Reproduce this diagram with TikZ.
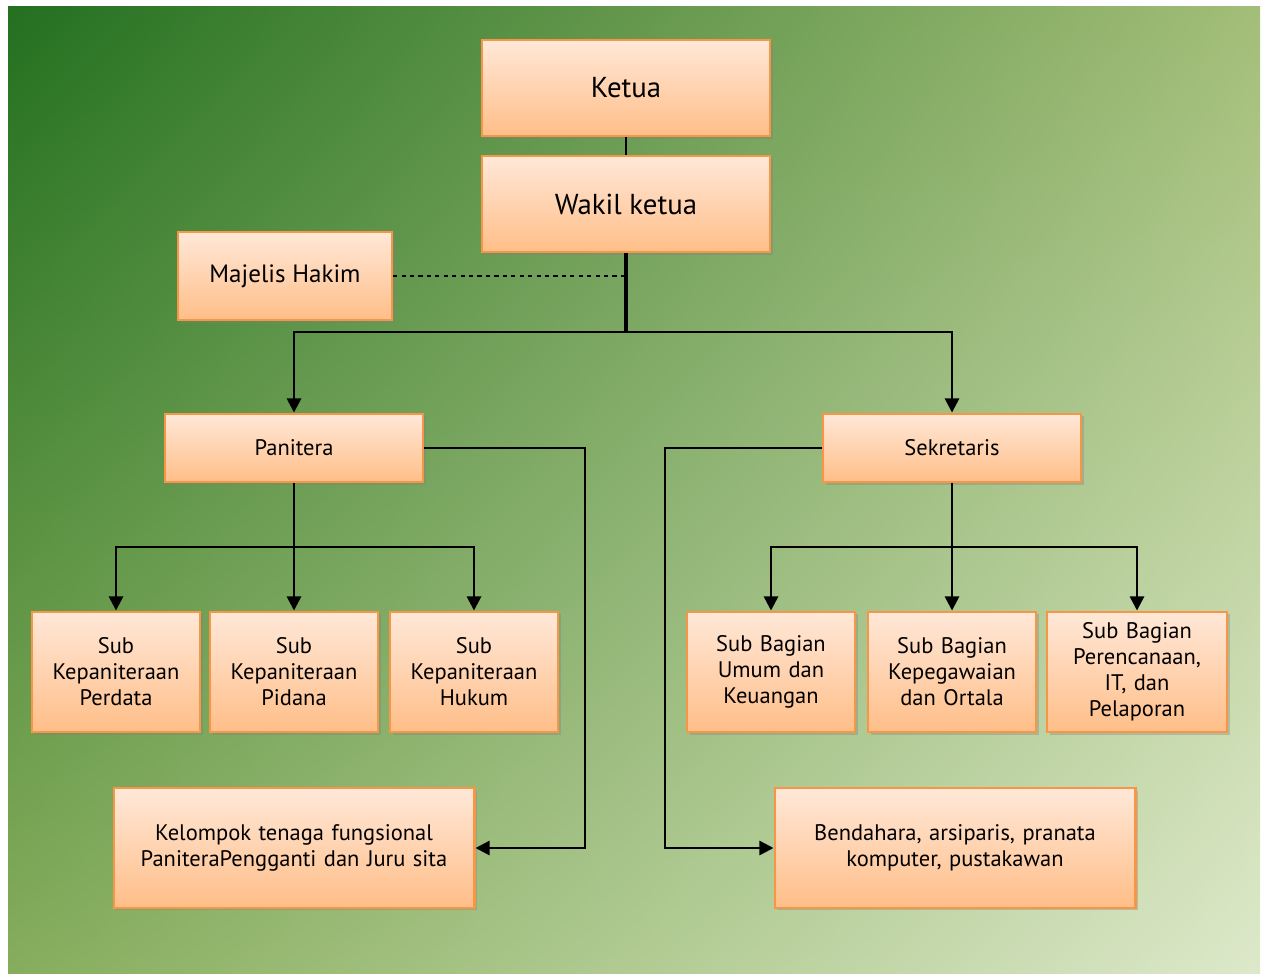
\documentclass[tikz,border=0pt]{standalone}
\usepackage{fontspec}
\setmainfont{PT Sans}
\usetikzlibrary{arrows.meta,shadows,shadings}

\definecolor{bgdark}{HTML}{237020}
\definecolor{bgtr}{HTML}{A3BE78}
\definecolor{bgbl}{HTML}{86AD5C}
\definecolor{bglight}{HTML}{DDE9CA}
\definecolor{boxtop}{HTML}{FFE8D8}
\definecolor{boxbot}{HTML}{FFBE88}
\definecolor{boxline}{HTML}{F79646}

\tikzset{
  unit/.style={draw=boxline, line width=1.5pt, top color=boxtop, bottom color=boxbot,
    inner sep=0pt, align=center,
    drop shadow={opacity=0.35, shadow xshift=2pt, shadow yshift=-2pt}},
  conn/.style={line width=1.8pt},
  arr/.style={conn, -{Triangle[length=10pt,width=10pt]}},
}

\begin{document}
\begin{tikzpicture}[x=0.025cm,y=-0.025cm]
\useasboundingbox (0,0) rectangle (1266,973);
\shade[upper left=bgdark, upper right=bgtr, lower left=bgbl, lower right=bglight]
  (8,6) rectangle (1260,973);

% pimpinan
\node[unit, minimum width=7.2cm, minimum height=2.4cm, font=\fontsize{20.5}{24}\selectfont] (ketua) at (626,88) {Ketua};
\node[unit, minimum width=7.2cm, minimum height=2.4cm, font=\fontsize{20.5}{24}\selectfont] (wakil) at (626,204) {Wakil ketua};
\node[unit, minimum width=5.35cm, minimum height=2.2cm, font=\fontsize{17.8}{22}\selectfont] (majelis) at (285,276) {Majelis Hakim};

% panitera dan sekretaris
\node[unit, minimum width=6.45cm, minimum height=1.72cm, font=\fontsize{16}{18}\selectfont] (panitera) at (294,448) {Panitera};
\node[unit, minimum width=6.45cm, minimum height=1.72cm, font=\fontsize{16}{18}\selectfont] (sekretaris) at (952,448) {Sekretaris};

% sub bagian
\tikzset{sub/.style={unit, minimum width=4.2cm, minimum height=3.02cm, text width=4.1cm, font=\fontsize{16}{18.5}\selectfont}}
\node[sub] (perdata) at (116,672) {Sub\\Kepaniteraan\\Perdata};
\node[sub] (pidana) at (294,672) {Sub\\Kepaniteraan\\Pidana};
\node[sub] (hukum) at (474,672) {Sub\\Kepaniteraan\\Hukum};
\node[sub] (umum) at (771,672) {Sub Bagian\\Umum dan\\Keuangan};
\node[sub] (pegawai) at (952,672) {Sub Bagian\\Kepegawaian\\dan Ortala};
\node[sub, minimum width=4.5cm, text width=4.4cm] (rencana) at (1137,672) {Sub Bagian\\Perencanaan,\\IT, dan\\Pelaporan};

% fungsional
\node[unit, minimum width=9.02cm, minimum height=2.98cm, text width=8.8cm, font=\fontsize{16}{18.5}\selectfont] (kelompok) at (294,848) {Kelompok tenaga fungsional\\PaniteraPengganti dan Juru sita};
\node[unit, minimum width=9.02cm, minimum height=2.98cm, text width=8.8cm, font=\fontsize{16}{18.5}\selectfont] (bendahara) at (955,848) {Bendahara, arsiparis, pranata\\komputer, pustakawan};

% garis
\coordinate (jc) at (626,332);
\coordinate (jp) at (294,547);
\coordinate (js) at (952,547);
\draw[line width=1pt] (ketua) -- (wakil);
\draw[line width=2.8pt] (wakil) -- (jc);
\draw[dashed, line width=0.9pt] (majelis.east) -- (majelis.east -| wakil.south);
\draw[arr] (jc) -| (panitera);
\draw[arr] (jc) -| (sekretaris);
\draw[conn] (panitera) -- (jp);
\draw[arr] (jp) -| (perdata);
\draw[arr] (jp) -- (pidana);
\draw[arr] (jp) -| (hukum);
\draw[conn] (sekretaris) -- (js);
\draw[arr] (js) -| (umum);
\draw[arr] (js) -- (pegawai);
\draw[arr] (js) -| (rencana);
\draw[arr] (panitera.east) -- ++(161,0) |- (kelompok.east);
\draw[arr] (sekretaris.west) -- ++(-157,0) |- (bendahara.west);

\end{tikzpicture}
\end{document}
